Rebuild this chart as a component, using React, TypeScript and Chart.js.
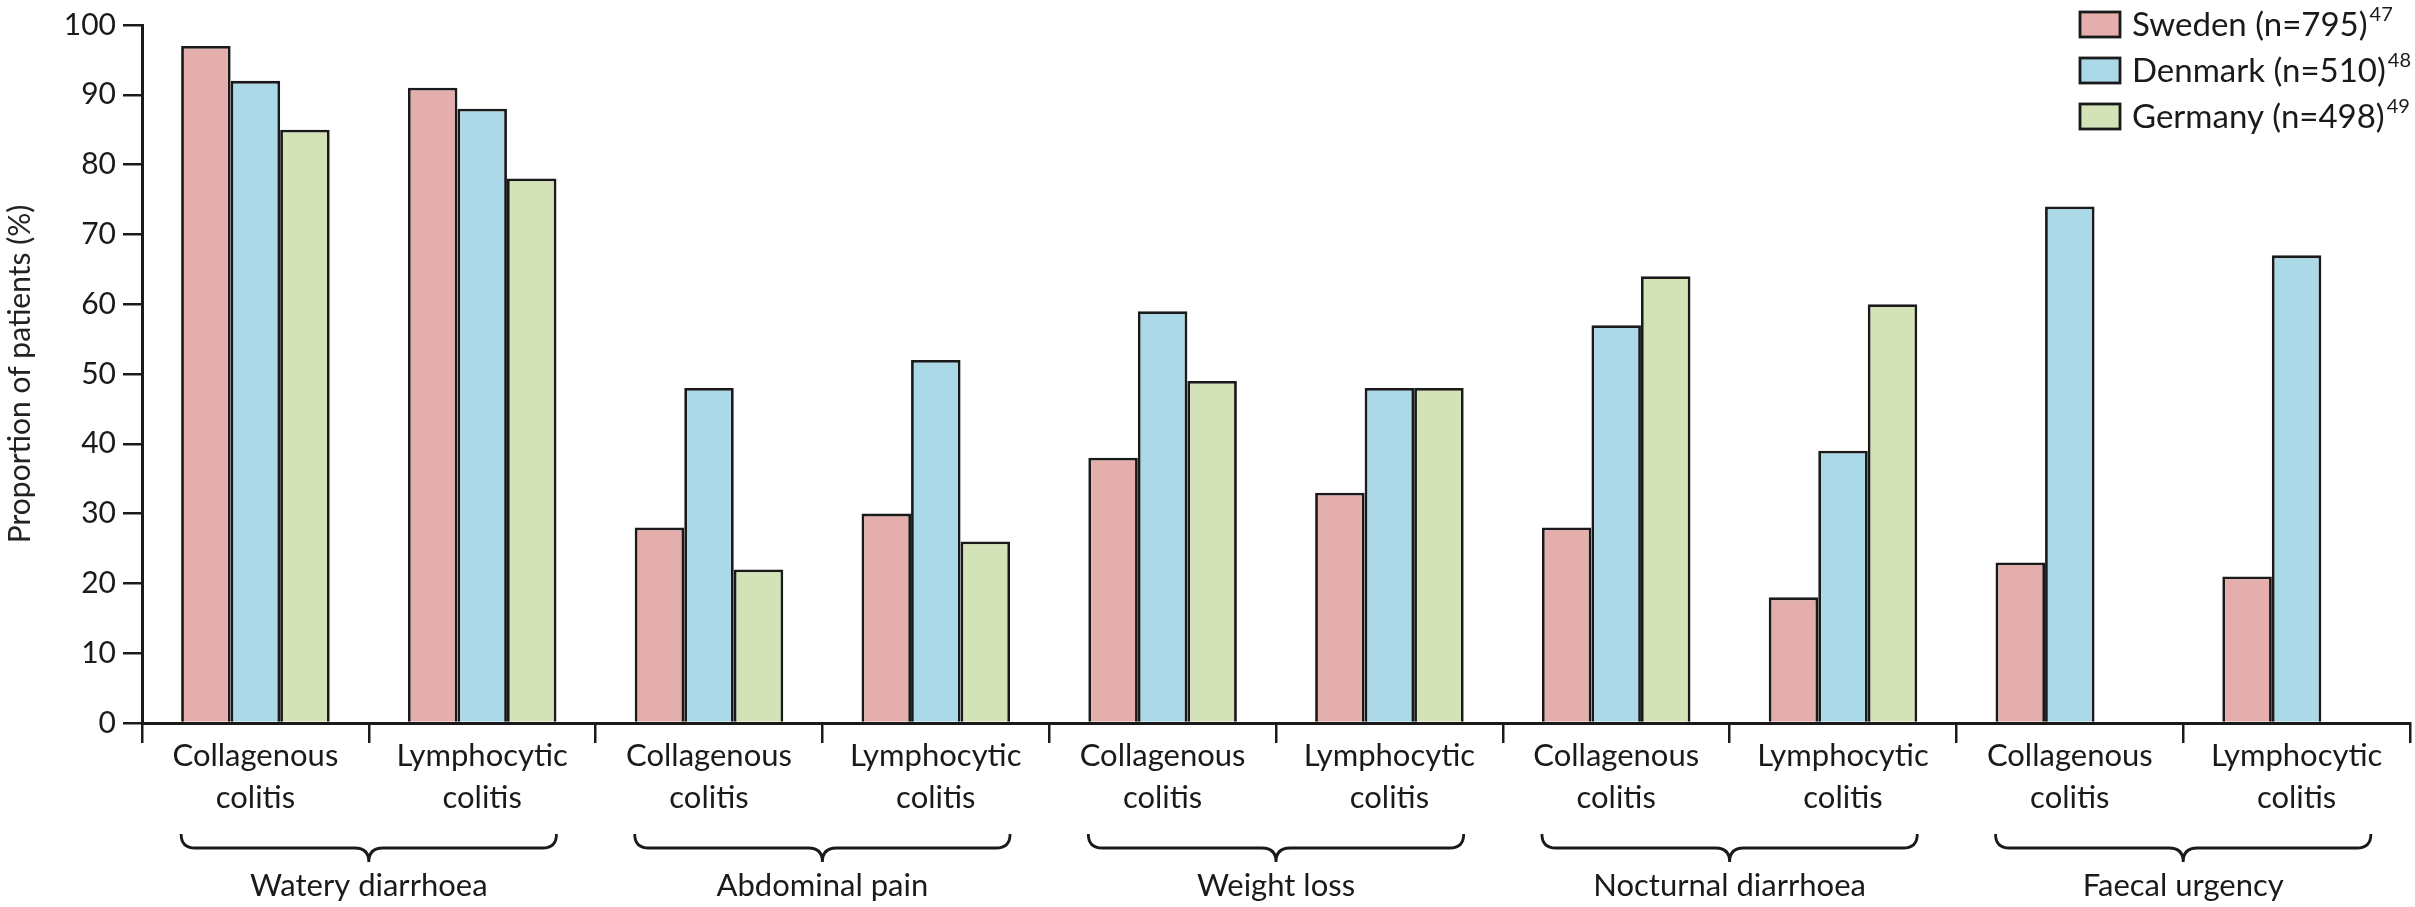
import React, { useEffect, useRef } from 'react';
import { Chart, registerables } from 'chart.js';

Chart.register(...registerables);

const categories: string[][] = [
  ['Collagenous', 'colitis'], ['Lymphocytic', 'colitis'],
  ['Collagenous', 'colitis'], ['Lymphocytic', 'colitis'],
  ['Collagenous', 'colitis'], ['Lymphocytic', 'colitis'],
  ['Collagenous', 'colitis'], ['Lymphocytic', 'colitis'],
  ['Collagenous', 'colitis'], ['Lymphocytic', 'colitis'],
];
const groups = ['Watery diarrhoea', 'Abdominal pain', 'Weight loss', 'Nocturnal diarrhoea', 'Faecal urgency'];

const seriesNames = ['Sweden (n=795)', 'Denmark (n=510)', 'Germany (n=498)'];
const seriesRefs = ['47', '48', '49'];

const sweden = [97, 91, 28, 30, 38, 33, 28, 18, 23, 21];
const denmark = [92, 88, 48, 52, 59, 48, 57, 39, 74, 67];
const germany = [85, 78, 22, 26, 49, 48, 64, 60, null, null];

const yMin = 0;
const yMax = 100;
const yStep = 10;
const yTitle = 'Proportion of patients (%)';

const colors = ['#e3aeab', '#acd9e8', '#d4e2b7'];
const INK = '#1a1a1a';
const FONT = 'Lato, "Open Sans", sans-serif';
const CAT_PCT = 0.655;

const bracePlugin = {
  id: 'braces',
  afterDraw(chart: any) {
    const x = chart.scales.x;
    const ctx = chart.ctx;
    const base = chart.chartArea.bottom;
    const catW = x.getPixelForValue(1) - x.getPixelForValue(0);
    const half = (catW * CAT_PCT) / 2;
    ctx.save();
    ctx.strokeStyle = INK;
    ctx.lineWidth = 2.8;
    ctx.fillStyle = INK;
    ctx.font = `31px ${FONT}`;
    ctx.textAlign = 'center';
    ctx.textBaseline = 'alphabetic';
    const yTop = base + 111;
    const yLine = base + 125;
    const yTip = base + 139;
    const r = 14;
    groups.forEach((g, i) => {
      const a = x.getPixelForValue(2 * i) - half;
      const b = x.getPixelForValue(2 * i + 1) + half;
      const mid = (a + b) / 2;
      ctx.beginPath();
      ctx.moveTo(a, yTop);
      ctx.quadraticCurveTo(a, yLine, a + r, yLine);
      ctx.lineTo(mid - r, yLine);
      ctx.quadraticCurveTo(mid, yLine, mid, yTip);
      ctx.moveTo(mid, yTip);
      ctx.quadraticCurveTo(mid, yLine, mid + r, yLine);
      ctx.lineTo(b - r, yLine);
      ctx.quadraticCurveTo(b, yLine, b, yTop);
      ctx.stroke();
      ctx.fillText(g, mid, base + 173);
    });
    ctx.restore();
  },
};

const legendPlugin = {
  id: 'cornerLegend',
  afterDraw(chart: any) {
    const ctx = chart.ctx;
    const left = chart.chartArea.right - 330;
    const top = chart.chartArea.top - 1;
    const rowH = 46;
    ctx.save();
    seriesNames.forEach((name, i) => {
      const cy = top + i * rowH;
      ctx.fillStyle = colors[i];
      ctx.fillRect(left, cy - 12, 40, 25);
      ctx.strokeStyle = INK;
      ctx.lineWidth = 2.8;
      ctx.strokeRect(left, cy - 12, 40, 25);
      ctx.fillStyle = INK;
      ctx.font = `33px ${FONT}`;
      ctx.textAlign = 'left';
      ctx.textBaseline = 'middle';
      ctx.fillText(name, left + 52, cy + 1);
      const w = ctx.measureText(name).width;
      ctx.font = `20px ${FONT}`;
      ctx.fillText(seriesRefs[i], left + 54 + w, cy - 9);
    });
    ctx.restore();
  },
};

export default function App() {
  const ref = useRef<HTMLCanvasElement | null>(null);
  useEffect(() => {
    if (!ref.current) return;
    const datasets = [sweden, denmark, germany].map((d, i) => ({
      label: seriesNames[i],
      data: d,
      backgroundColor: colors[i],
      borderColor: INK,
      borderWidth: 2.8,
      categoryPercentage: CAT_PCT,
      barPercentage: 1,
    }));
    const chart = new Chart(ref.current, {
      type: 'bar',
      data: { labels: categories, datasets },
      options: {
        animation: false,
        responsive: false,
        devicePixelRatio: 1,
        layout: { padding: { top: 20, right: 5, left: 0, bottom: 0 } },
        plugins: {
          legend: { display: false },
          tooltip: { enabled: false },
        },
        scales: {
          x: {
            grid: { offset: true, drawOnChartArea: false, drawTicks: true, tickLength: 20, color: INK, lineWidth: 2.5 },
            border: { display: true, color: INK, width: 3 },
            ticks: {
              color: INK,
              font: { family: FONT, size: 31, lineHeight: 1.35 },
              padding: -8,
              maxRotation: 0,
              autoSkip: false,
            },
            afterFit(scale: any) { scale.height = 184; },
          },
          y: {
            min: yMin,
            max: yMax,
            grid: { drawOnChartArea: false, drawTicks: true, tickLength: 19, color: INK, lineWidth: 2.5 },
            border: { display: true, color: INK, width: 3 },
            ticks: {
              stepSize: yStep,
              color: INK,
              font: { family: FONT, size: 30 },
              padding: 7,
            },
            title: {
              display: true,
              text: yTitle,
              color: '#222',
              font: { family: FONT, size: 30 },
              padding: { top: 2, bottom: 0 },
            },
            afterFit(scale: any) { scale.width = 142; },
          },
        },
      },
      plugins: [bracePlugin, legendPlugin],
    });
    return () => chart.destroy();
  }, []);
  return (
    <div style={{ position: 'absolute', left: 0, top: 0, width: 2415, height: 907, background: '#fff' }}>
      <canvas ref={ref} width={2415} height={907} />
    </div>
  );
}
